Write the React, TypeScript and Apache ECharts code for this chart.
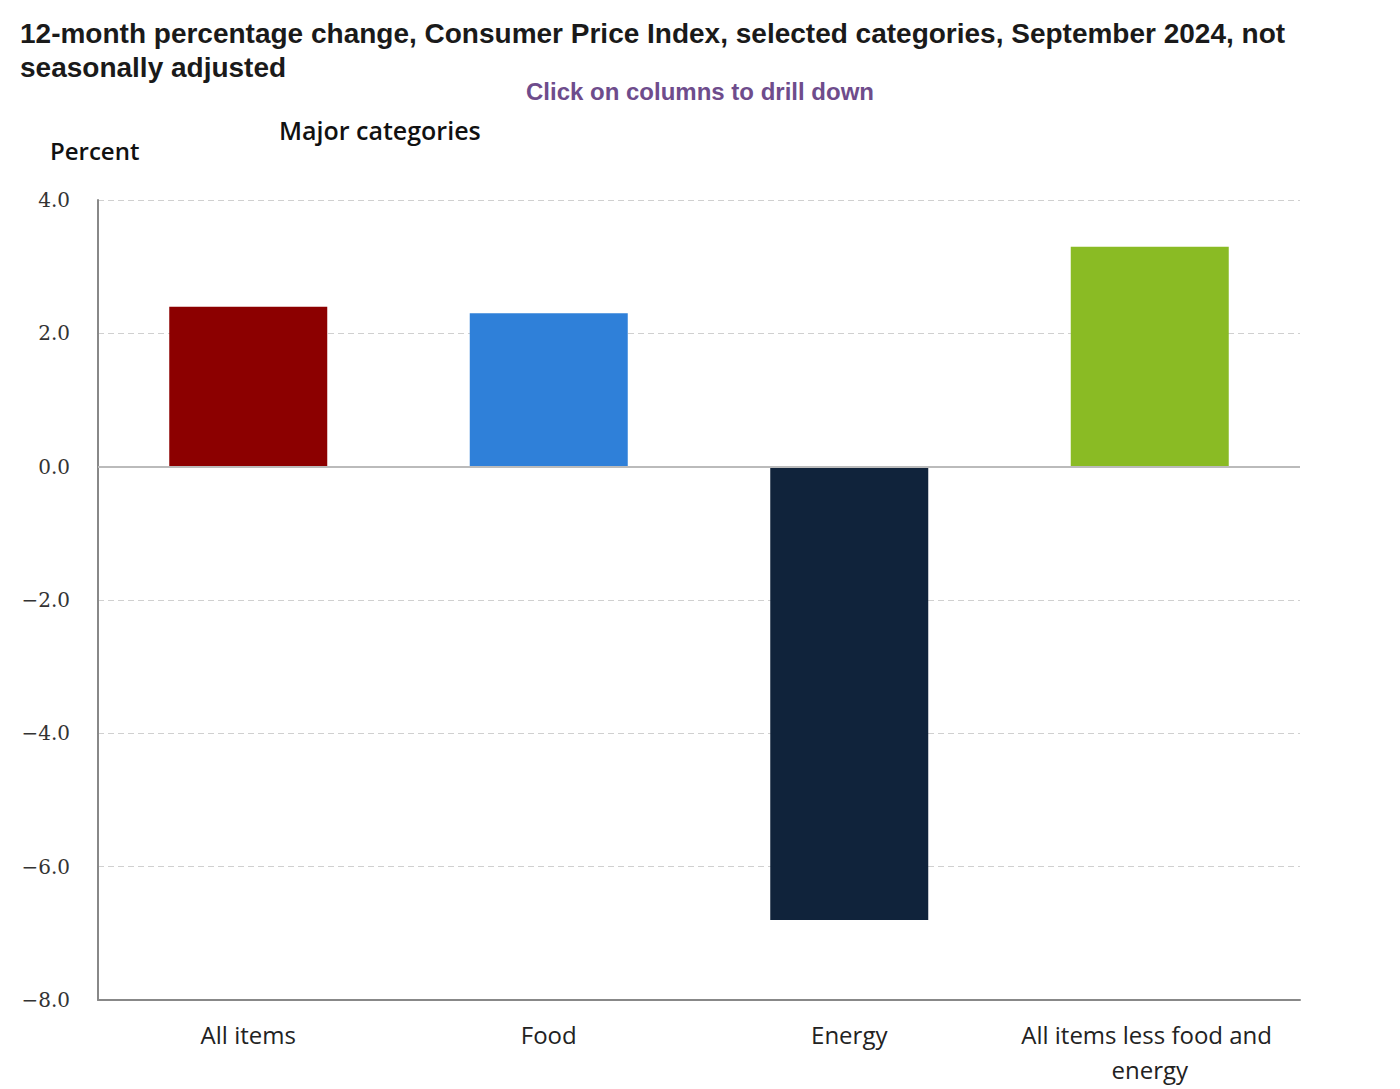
import React, { useEffect, useRef } from "react";
import * as echarts from "echarts";

const categories = ["All items", "Food", "Energy", "All items less food and energy"];
const values = [2.4, 2.3, -6.8, 3.3];
const barColors = ["#8c0000", "#2f80d9", "#10233b", "#8abb24"];
const yTicks = { min: -8, max: 4, interval: 2 };

export default function App() {
  const ref = useRef<HTMLDivElement>(null);
  useEffect(() => {
    if (!ref.current) return;
    const chart = echarts.init(ref.current, null, { renderer: "svg" });
    chart.setOption({
      animation: false,
      backgroundColor: "#ffffff",
      title: [
        {
          text: "12-month percentage change, Consumer Price Index, selected categories, September 2024, not\nseasonally adjusted",
          left: 20,
          top: 16,
          padding: 0,
          textStyle: {
            fontFamily: "Liberation Sans, Arial, sans-serif",
            fontWeight: "bold",
            fontSize: 28,
            lineHeight: 34,
            color: "#1a1a1a",
          },
        },
        {
          text: "Click on columns to drill down",
          left: "center",
          top: 79,
          padding: 0,
          textStyle: {
            fontFamily: "Liberation Sans, Arial, sans-serif",
            fontWeight: "bold",
            fontSize: 24,
            color: "#6e4c8c",
          },
        },
        {
          text: "Major categories",
          left: 279,
          top: 117,
          padding: 0,
          textStyle: {
            fontFamily: "Open Sans, sans-serif",
            fontWeight: 600,
            fontSize: 25,
            color: "#111",
          },
        },
        {
          text: "Percent",
          left: 50,
          top: 138,
          padding: 0,
          textStyle: {
            fontFamily: "Open Sans, sans-serif",
            fontWeight: 600,
            fontSize: 24,
            color: "#111",
          },
        },
      ],
      grid: { left: 98, top: 200, width: 1202, height: 800, containLabel: false },
      xAxis: {
        type: "category",
        data: categories,
        axisLine: { onZero: false, lineStyle: { color: "#888", width: 2 } },
        axisTick: { show: false },
        axisLabel: {
          interval: 0,
          fontFamily: "Open Sans, sans-serif",
          fontSize: 24,
          color: "#222",
          margin: 17,
          lineHeight: 35,
          width: 290,
          overflow: "break",
        },
      },
      yAxis: {
        type: "value",
        min: yTicks.min,
        max: yTicks.max,
        interval: yTicks.interval,
        axisLine: { show: true, lineStyle: { color: "#888", width: 2 } },
        axisTick: { show: false },
        splitLine: { lineStyle: { color: "#d0d0d0", type: [6, 4], width: 1 } },
        axisLabel: {
          fontFamily: "DejaVu Serif, Liberation Serif, serif",
          fontSize: 20,
          color: "#333",
          margin: 28,
          formatter: (v: number) => (v < 0 ? "\u2212" + Math.abs(v).toFixed(1) : v.toFixed(1)),
        },
      },
      series: [
        {
          type: "bar",
          barWidth: 158,
          data: values.map((v, i) => ({ value: v, itemStyle: { color: barColors[i] } })),
          markLine: {
            silent: true,
            symbol: "none",
            label: { show: false },
            lineStyle: { color: "#bbbbbb", type: "solid", width: 2 },
            data: [{ yAxis: 0 }],
          },
        },
      ],
    });
    return () => chart.dispose();
  }, []);
  return (
    <div
      ref={ref}
      style={{ position: "absolute", left: 0, top: 0, width: 1400, height: 1089 }}
    />
  );
}
